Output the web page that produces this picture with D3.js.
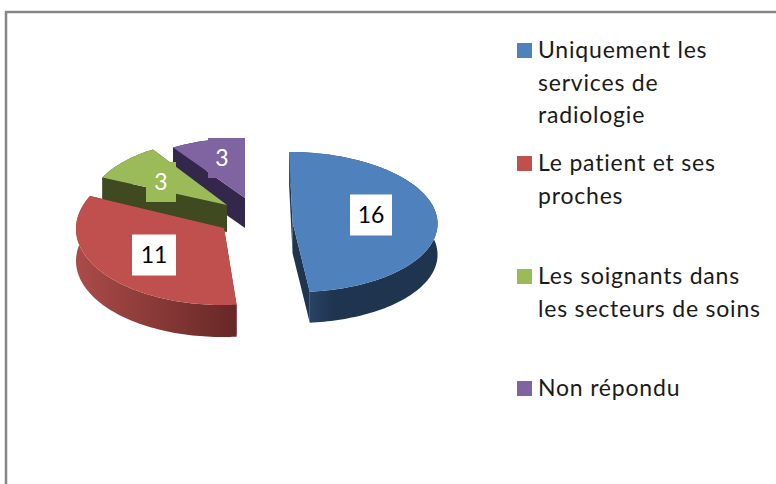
<!DOCTYPE html>
<html><head><meta charset="utf-8">
<script src="https://cdn.jsdelivr.net/npm/d3@7"></script>
<style>html,body{margin:0;padding:0;background:#fff}svg{display:block}text{font-family:Lato,"Open Sans",sans-serif}</style>
</head><body><svg id="c" width="776" height="484"></svg>
<script>
const categories = ["Uniquement les services de radiologie","Le patient et ses proches","Les soignants dans les secteurs de soins","Non répondu"];
const legendLines = [["Uniquement les","services de","radiologie"],["Le patient et ses","proches"],["Les soignants dans","les secteurs de soins"],["Non répondu"]];
const values = [16,11,3,3];
const colors = ["#4f81bd","#c0504d","#9bbb59","#8064a2"];
const wallLight = ["#30507a","#ab4b49","#3f4a20","#33274c"];
const wallDark = ["#1f344f","#662826","#3f4a20","#33274c"];

// layout of each exploded slice (screen geometry, separate from the data)
const geom = [
 {cx:292.5,cy:222,rx:145,ry:70,k:0.05,depth:31,lx:371,ly:215,bw:42,bh:41,box:"#fff",txt:"#000"},
 {cx:224,cy:228,rx:148,ry:77,k:-0.02,depth:32,lx:154,ly:255,bw:44,bh:41,box:"#fff",txt:"#000"},
 {cx:227,cy:205,rx:137,ry:66,k:0,depth:27,lx:161,ly:182,bw:30,bh:40,box:colors[2],txt:"#fff"},
 {cx:245,cy:198,rx:133,ry:60,k:0,depth:30,lx:222,ly:158,bw:28,bh:40,box:colors[3],txt:"#fff"}
];
const legendX = 517, legendTextX = 538, lineH = 32.5;
const legendTop = [58,171,284,396];

const svg = d3.select("#c");
svg.append("path").attr("d","M6,484V12H776").attr("fill","none").attr("stroke","#868686").attr("stroke-width",2.5);

const arcs = d3.pie().sort(null).value(d=>d)(values);
const line = d3.line();
const defs = svg.append("defs");
const pie = svg.append("g");

function proj(g,a,r=1,dz=0){
  const x=Math.sin(a)*g.rx*r, y=-Math.cos(a)*g.ry*r;
  return [g.cx+x+g.k*y, g.cy+y+dz];
}
d3.range(3,-1,-1).forEach(i=>{
  const a=arcs[i], g=geom[i];
  const n=Math.max(8,Math.round((a.endAngle-a.startAngle)*40));
  const ts=d3.range(n+1).map(j=>a.startAngle+(a.endAngle-a.startAngle)*j/n);
  const rim=ts.map(t=>proj(g,t));
  const rimLow=ts.map(t=>proj(g,t,1,g.depth));
  const xs=d3.extent(rim,p=>p[0]);
  defs.append("linearGradient").attr("id","w"+i).attr("gradientUnits","userSpaceOnUse")
    .attr("x1",xs[0]).attr("x2",i===0?xs[0]+45:xs[1]).attr("y1",0).attr("y2",0)
    .selectAll("stop").data([[0,wallLight[i]],[1,wallDark[i]]]).join("stop")
    .attr("offset",d=>d[0]).attr("stop-color",d=>d[1]);
  const apex=proj(g,0,0), apexLow=proj(g,0,0,g.depth);
  const sliceG=pie.append("g").attr("class","slice");
  // cut faces
  [[a.startAngle],[a.endAngle]].forEach(([t])=>{
    sliceG.append("path").attr("fill",wallDark[i])
     .attr("d",line([apex,proj(g,t),proj(g,t,1,g.depth),apexLow])+"Z");
  });
  // outer wall
  sliceG.append("path").attr("fill",`url(#w${i})`)
    .attr("d",line(rim.concat(rimLow.slice().reverse()))+"Z");
  // top
  sliceG.append("path").attr("fill",colors[i])
    .attr("d",line([apex].concat(rim))+"Z");
});

// value labels
const lab=svg.append("g").selectAll("g").data(values).join("g")
  .attr("transform",(d,i)=>`translate(${geom[i].lx},${geom[i].ly})`);
lab.append("rect").attr("x",(d,i)=>-geom[i].bw/2).attr("y",(d,i)=>-geom[i].bh/2)
  .attr("width",(d,i)=>geom[i].bw).attr("height",(d,i)=>geom[i].bh).attr("fill",(d,i)=>geom[i].box);
lab.append("text").text(d=>d).attr("text-anchor","middle").attr("dy","0.36em")
  .attr("font-size",23).attr("fill",(d,i)=>geom[i].txt);

// legend
const leg=svg.append("g").selectAll("g").data(categories).join("g");
leg.append("rect").attr("x",legendX).attr("y",(d,i)=>legendTop[i]-15).attr("width",15).attr("height",15)
  .attr("fill",(d,i)=>colors[i]);
leg.each(function(d,i){
  d3.select(this).selectAll("text").data(legendLines[i]).join("text")
    .attr("x",legendTextX).attr("y",(t,j)=>legendTop[i]+j*lineH)
    .attr("font-size",23).attr("letter-spacing",0.8).attr("fill","#1a1a1a").text(t=>t);
});
</script></body></html>
